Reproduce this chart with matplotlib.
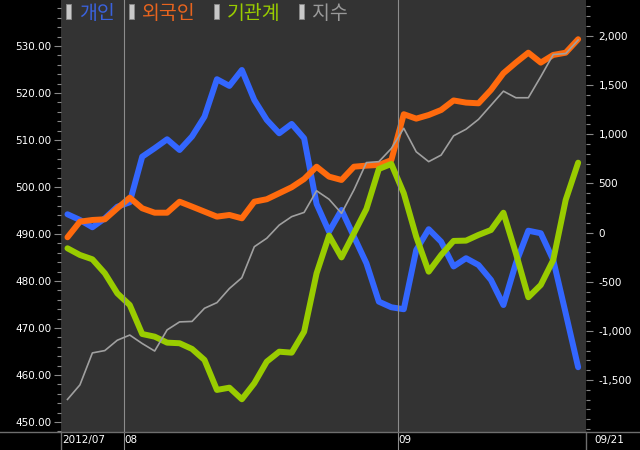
import matplotlib
matplotlib.use('Agg')
import matplotlib.pyplot as plt
from matplotlib.lines import Line2D
from matplotlib.patches import Rectangle
from matplotlib.ticker import MultipleLocator, FuncFormatter
from matplotlib.transforms import blended_transform_factory
import numpy as np

# trading days 2012/07/25 .. 2012/09/21 (42 points)
days = np.arange(42)

# 지수 (left axis)
index_vals = [454.8, 457.9, 464.7, 465.2, 467.4, 468.5, 466.7, 465.1, 469.6, 471.3,
              471.4, 474.2, 475.4, 478.4, 480.7, 487.3, 489.1, 491.9, 493.7, 494.6,
              499.2, 497.4, 494.4, 499.4, 505.2, 505.4, 508.2, 512.5, 507.5, 505.4,
              506.8, 510.9, 512.3, 514.4, 517.4, 520.4, 519.0, 519.0, 523.5, 528.2,
              528.4, 531.3]

# 개인 / 외국인 / 기관계 (right axis)
retail = [186, 128, 54, 145, 263, 308, 772, 858, 949, 840,
          978, 1179, 1560, 1492, 1654, 1349, 1146, 1010, 1105, 959,
          291, 9, 230, -42, -312, -703, -760, -780, -177, 34,
          -93, -345, -261, -330, -482, -737, -312, 19, -7, -279,
          -821, -1370]
foreign = [-48, 111, 128, 135, 247, 355, 247, 202, 202, 314,
           264, 213, 162, 179, 145, 314, 339, 400, 461, 545,
           670, 569, 535, 670, 681, 688, 737, 1204, 1159, 1196,
           1247, 1344, 1322, 1315, 1451, 1621, 1729, 1830, 1729, 1807,
           1830, 1967]
inst = [-160, -228, -272, -414, -618, -737, -1032, -1059, -1120, -1126,
        -1184, -1296, -1601, -1578, -1696, -1533, -1313, -1212, -1222, -1008,
        -414, -30, -253, -7, 240, 647, 698, 400, -42, -398,
        -228, -85, -82, -24, 26, 202, -211, -658, -533, -279,
        332, 711]

month_pos = [4.5, 26.5]
month_labels = ['08', '09']

W, H = 640, 450
fig = plt.figure(figsize=(6.4, 4.5), dpi=100, facecolor='black')
ax = fig.add_axes([61 / W, 18 / H, 525 / W, 432 / H])
ax.set_facecolor('#333333')

ax.plot(days, retail, color='#3366ff', lw=4.3, solid_capstyle='round', solid_joinstyle='round')
ax.plot(days, foreign, color='#ff6a0d', lw=4.3, solid_capstyle='round', solid_joinstyle='round')
ax.plot(days, inst, color='#99cc00', lw=4.3, solid_capstyle='round', solid_joinstyle='round')
ax.set_xlim(-0.52, 41.63)
ax.set_ylim(-2029, 2366)

ax2 = ax.twinx()
ax2.plot(days, index_vals, color='#a0a0a0', lw=1.2)
ax2.set_ylim(447.87, 539.8)

# right axis -> net buying, left axis -> index
ax.yaxis.tick_right()
ax2.yaxis.tick_left()
ax.yaxis.set_major_locator(MultipleLocator(500))
ax.yaxis.set_minor_locator(MultipleLocator(100))
ax.yaxis.set_major_formatter(FuncFormatter(lambda v, p: '{:,.0f}'.format(v)))
ax2.yaxis.set_major_locator(MultipleLocator(10))
ax2.yaxis.set_minor_locator(MultipleLocator(2))
ax2.yaxis.set_major_formatter(FuncFormatter(lambda v, p: '{:.2f}'.format(v)))
for a in (ax, ax2):
    a.set_xticks([])
    a.tick_params(axis='y', which='major', direction='out', length=5, width=0.8,
                  color='#888888', labelcolor='white', labelsize=7.5, pad=2)
    a.tick_params(axis='y', which='minor', direction='out', length=3, width=0.8, color='#888888')
    for s in a.spines.values():
        s.set_visible(False)
ax.tick_params(axis='y', pad=4)
ax.set_yticks([v for v in range(-1500, 2001, 500)])
ax2.set_yticks([v for v in range(450, 531, 10)])

for x in month_pos:
    ax.axvline(x, ymin=-18 / 432, ymax=1, color='#8c8c8c', lw=0.8, clip_on=False)

# bottom date band
fig.add_artist(Line2D([0, 1], [18 / H, 18 / H], transform=fig.transFigure, color='#6e6e6e', lw=1))
for px in (61, 586):
    fig.add_artist(Line2D([px / W, px / W], [0, 18 / H], transform=fig.transFigure, color='#6e6e6e', lw=1))
trans = blended_transform_factory(ax.transData, fig.transFigure)
ax.text(-0.4, 10 / H, '2012/07', transform=trans, color='white', fontsize=7.5, va='center', ha='left')
for x, lab in zip(month_pos, month_labels):
    ax.text(x + 0.1, 10 / H, lab, transform=trans, color='white', fontsize=7.5, va='center', ha='left')
ax.text(42.3, 10 / H, '09/21', transform=trans, color='white', fontsize=7.5, va='center', ha='left')

# legend
legend_names = ['개인', '외국인', '기관계', '지수']
legend_colors = ['#3a62dd', '#e8641e', '#99cc00', '#999999']
legend_x = [66, 129, 214, 299]
for x, name, c in zip(legend_x, legend_names, legend_colors):
    fig.add_artist(Rectangle((x / W, 1 - 19 / H), 5 / W, 15 / H, transform=fig.transFigure,
                             facecolor='#c8c8c8', edgecolor='#888888', lw=0.6))
    fig.text((x + 13) / W, 1 - 13.5 / H, name, color=c, fontsize=14, va='center', ha='left',
             family=['Noto Sans CJK KR', 'DejaVu Sans'])

fig.savefig('out.png', dpi=100, facecolor='black')
